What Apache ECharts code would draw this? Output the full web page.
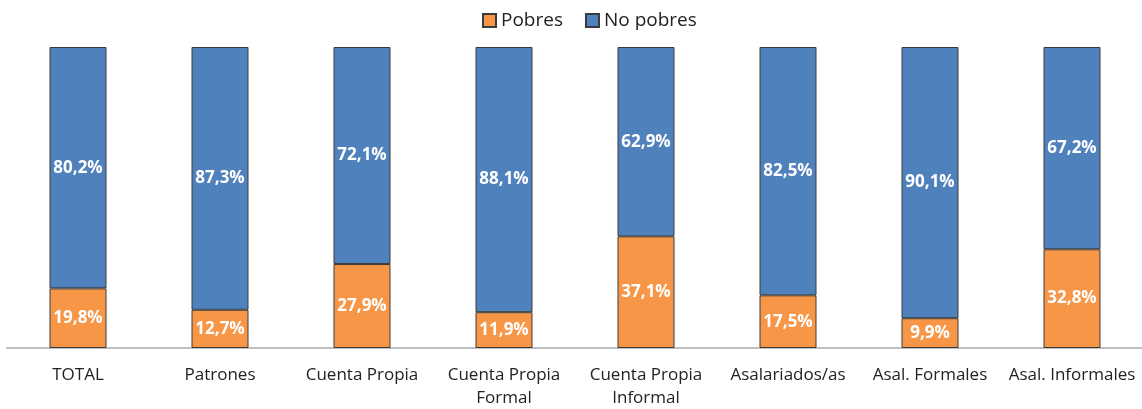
<!DOCTYPE html>
<html>
<head>
<meta charset="utf-8">
<script src="https://cdn.jsdelivr.net/npm/echarts@6/dist/echarts.min.js"></script>
</head>
<body style="margin:0; background:#fff">
<div id="chart" style="width:1142px; height:409px;"></div>
<script>
	// categorías y valores (%)
	var categorias = ['TOTAL', 'Patrones', 'Cuenta Propia', 'Cuenta Propia\nFormal', 'Cuenta Propia\nInformal', 'Asalariados/as', 'Asal. Formales', 'Asal. Informales'];
	var pobres = [19.8, 12.7, 27.9, 11.9, 37.1, 17.5, 9.9, 32.8];
	var noPobres = [80.2, 87.3, 72.1, 88.1, 62.9, 82.5, 90.1, 67.2];

	var fmt = function(p) { return p.value.toFixed(1).replace('.', ',') + '%'; };
	var etiqueta = { show: true, position: 'inside', color: '#fff', fontWeight: 'bold', fontSize: 17, fontFamily: 'Open Sans', formatter: fmt };

	var chart = echarts.init(document.getElementById('chart'));
	chart.setOption({
		animation: false,
		legend: {
			top: 6, left: 477, icon: 'rect', itemWidth: 13, itemHeight: 13, itemGap: 22,
			textStyle: { fontSize: 19, color: '#222', fontFamily: 'Open Sans' },
			data: ['Pobres', 'No pobres']
		},
		grid: { left: 7, right: -1, top: 47, bottom: 61, outerBoundsMode: 'none', containLabel: false },
		xAxis: {
			type: 'category',
			data: categorias,
			axisLine: { lineStyle: { color: '#bfbfbf', width: 2 } },
			axisTick: { show: false },
			axisLabel: { interval: 0, fontSize: 17, color: '#222', fontFamily: 'Open Sans', margin: 16, lineHeight: 23 }
		},
		yAxis: { type: 'value', min: 0, max: 100, show: false, splitLine: { show: false } },
		series: [
			{
				name: 'Pobres', type: 'bar', stack: 'total', barWidth: 57, data: pobres,
				itemStyle: { color: '#F79646', borderColor: '#3a3a3a', borderWidth: 1 },
				label: etiqueta
			},
			{
				name: 'No pobres', type: 'bar', stack: 'total', barWidth: 57, data: noPobres,
				itemStyle: { color: '#4F81BD', borderColor: '#3a3a3a', borderWidth: 1 },
				label: etiqueta
			}
		]
	});
</script>
</body>
</html>
